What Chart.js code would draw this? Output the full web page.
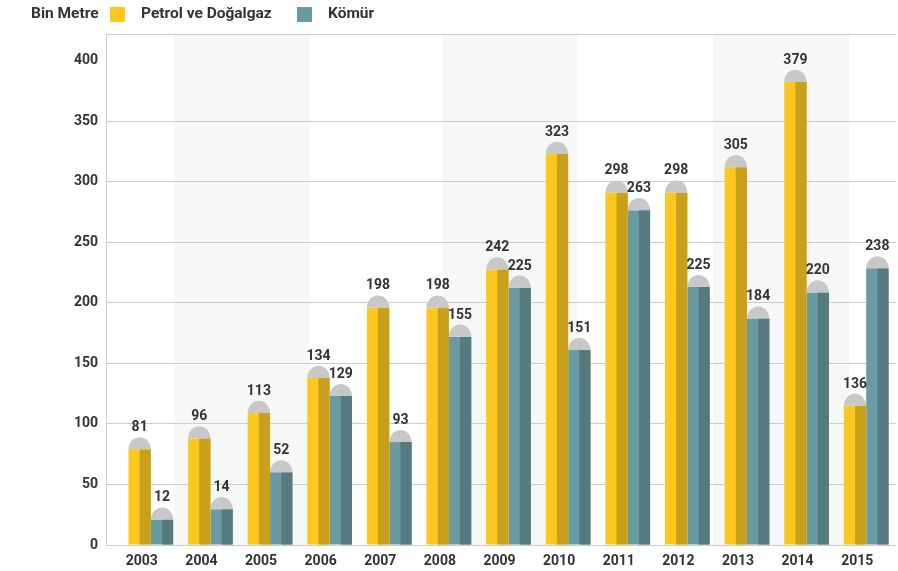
<!DOCTYPE html>
<html>
<head>
<meta charset="utf-8">
<script src="https://cdn.jsdelivr.net/npm/chart.js@4.4.1/dist/chart.umd.min.js"></script>
<style>
  body { margin: 0; background: #fff; font-family: Roboto, "Liberation Sans", sans-serif; }
  #wrap { position: relative; width: 898px; height: 571px; }
  #legend { position: absolute; left: 0; top: 0; height: 28px; font-weight: bold; font-size: 15.5px; color: #333; }
  #legend span { position: absolute; top: 4px; white-space: nowrap; }
  #legend i { position: absolute; top: 7px; width: 15px; height: 15px; }
</style>
</head>
<body>
<div id="wrap">
  <canvas id="chart"></canvas>
  <div id="legend">
    <span style="left:31px">Bin Metre</span>
    <i id="sw1" style="left:110px"></i>
    <span style="left:141px">Petrol ve Doğalgaz</span>
    <i id="sw2" style="left:297px"></i>
    <span style="left:328px">Kömür</span>
  </div>
</div>
<script>
// yıllar ve değerler (çubuk yükseklikleri, etiketler ayrıca)
const years = ['2003','2004','2005','2006','2007','2008','2009','2010','2011','2012','2013','2014','2015'];
const petrolBars = [79, 88, 109, 138, 196, 196, 227.5, 323, 291, 291, 312, 382.5, 115];
const coalBars = [21, 29.5, 60, 123, 85, 172, 212.5, 161, 276.5, 213, 187, 208.5, 228.5];
const petrolLabels = ['81','96','113','134','198','198','242','323','298','298','305','379','136'];
const coalLabels = ['12','14','52','129','93','155','225','151','263','225','184','220','238'];
const yTicks = [0, 50, 100, 150, 200, 250, 300, 350, 400];
// gölgeli arka plan şeritleri (kategori biriminde)
const bands = [[0.39, 2.67], [4.9, 7.16], [9.43, 11.71]];

const petrolColors = ['#fcc81f', '#c9a01c'];
const coalColors = ['#6a9ba2', '#557b80'];
const capColor = '#c8c8c8';
const gridColor = '#cccccc';
const textColor = '#333333';
const font = { family: 'Roboto, "Liberation Sans", sans-serif', size: 14, weight: 'bold' };

document.getElementById('sw1').style.background = petrolColors[0];
document.getElementById('sw2').style.background = coalColors[0];

const bandPlugin = {
    id: 'bands',
    beforeDraw(chart) {
        const { ctx, chartArea, scales } = chart;
        ctx.save();
        ctx.fillStyle = '#f6f8f8';
        bands.forEach(([a, b]) => {
            const x1 = scales.x.getPixelForValue(a);
            const x2 = scales.x.getPixelForValue(b);
            ctx.fillRect(x1, chartArea.top, x2 - x1, chartArea.bottom - chartArea.top);
        });
        ctx.restore();
    },
    beforeDatasetsDraw(chart) {
        // sol çerçeve çizgisi
        const { ctx, chartArea } = chart;
        const x = chartArea.left - chart.options.scales.y.grid.tickLength + 0.5;
        ctx.save();
        ctx.strokeStyle = gridColor;
        ctx.lineWidth = 1;
        ctx.beginPath();
        ctx.moveTo(x, chartArea.top);
        ctx.lineTo(x, chartArea.bottom);
        ctx.stroke();
        ctx.restore();
    }
};

const barPlugin = {
    id: 'pencilBars',
    afterDatasetsDraw(chart) {
        const ctx = chart.ctx;
        const allLabels = [petrolLabels, coalLabels];
        const darks = [petrolColors[1], coalColors[1]];
        const tops = [];
        ctx.save();
        chart.data.datasets.forEach((ds, di) => {
            chart.getDatasetMeta(di).data.forEach((el, i) => {
                const { x, y, width, base } = el.getProps(['x', 'y', 'width', 'base'], true);
                ctx.fillStyle = darks[di];
                ctx.fillRect(x, y, width / 2, base - y);
                const r = width / 2;
                ctx.fillStyle = capColor;
                ctx.beginPath();
                ctx.ellipse(x, y, r, r + 1, 0, Math.PI, 2 * Math.PI);
                ctx.closePath();
                ctx.fill();
                tops.push([x, y - r - 1, allLabels[di][i]]);
            });
        });
        ctx.fillStyle = textColor;
        ctx.font = 'bold 14px Roboto, "Liberation Sans", sans-serif';
        ctx.textAlign = 'center';
        ctx.textBaseline = 'alphabetic';
        tops.forEach(([x, y, t]) => ctx.fillText(t, x, y - 6));
        ctx.restore();
    }
};

new Chart(document.getElementById('chart'), {
    type: 'bar',
    data: {
        labels: years,
        datasets: [
            { label: 'Petrol ve Doğalgaz', data: petrolBars, backgroundColor: petrolColors[0] },
            { label: 'Kömür', data: coalBars, backgroundColor: coalColors[0] }
        ]
    },
    options: {
        responsive: true,
        maintainAspectRatio: false,
        animation: false,
        categoryPercentage: 0.75,
        barPercentage: 1,
        layout: { padding: { top: 34, right: 2, bottom: 0, left: 0 } },
        plugins: { legend: { display: false }, tooltip: { enabled: false } },
        scales: {
            x: {
                afterFit: s => { s.height = 26; },
                grid: { display: false, drawTicks: false, tickLength: 0 },
                border: { display: false },
                ticks: { color: textColor, font: font, padding: 8, labelOffset: -9, maxRotation: 0, autoSkip: false }
            },
            y: {
                min: 0,
                max: 422,
                afterFit: s => { s.width = 121; },
                border: { display: false },
                grid: {
                    tickLength: 15,
                    lineWidth: 1,
                    color: c => (c.tick && c.tick.value === 400) ? 'rgba(0,0,0,0)' : gridColor
                },
                ticks: {
                    stepSize: 50,
                    padding: 8,
                    color: textColor,
                    font: font,
                    callback: v => yTicks.includes(v) ? v : ''
                }
            }
        }
    },
    plugins: [bandPlugin, barPlugin]
});
</script>
</body>
</html>
